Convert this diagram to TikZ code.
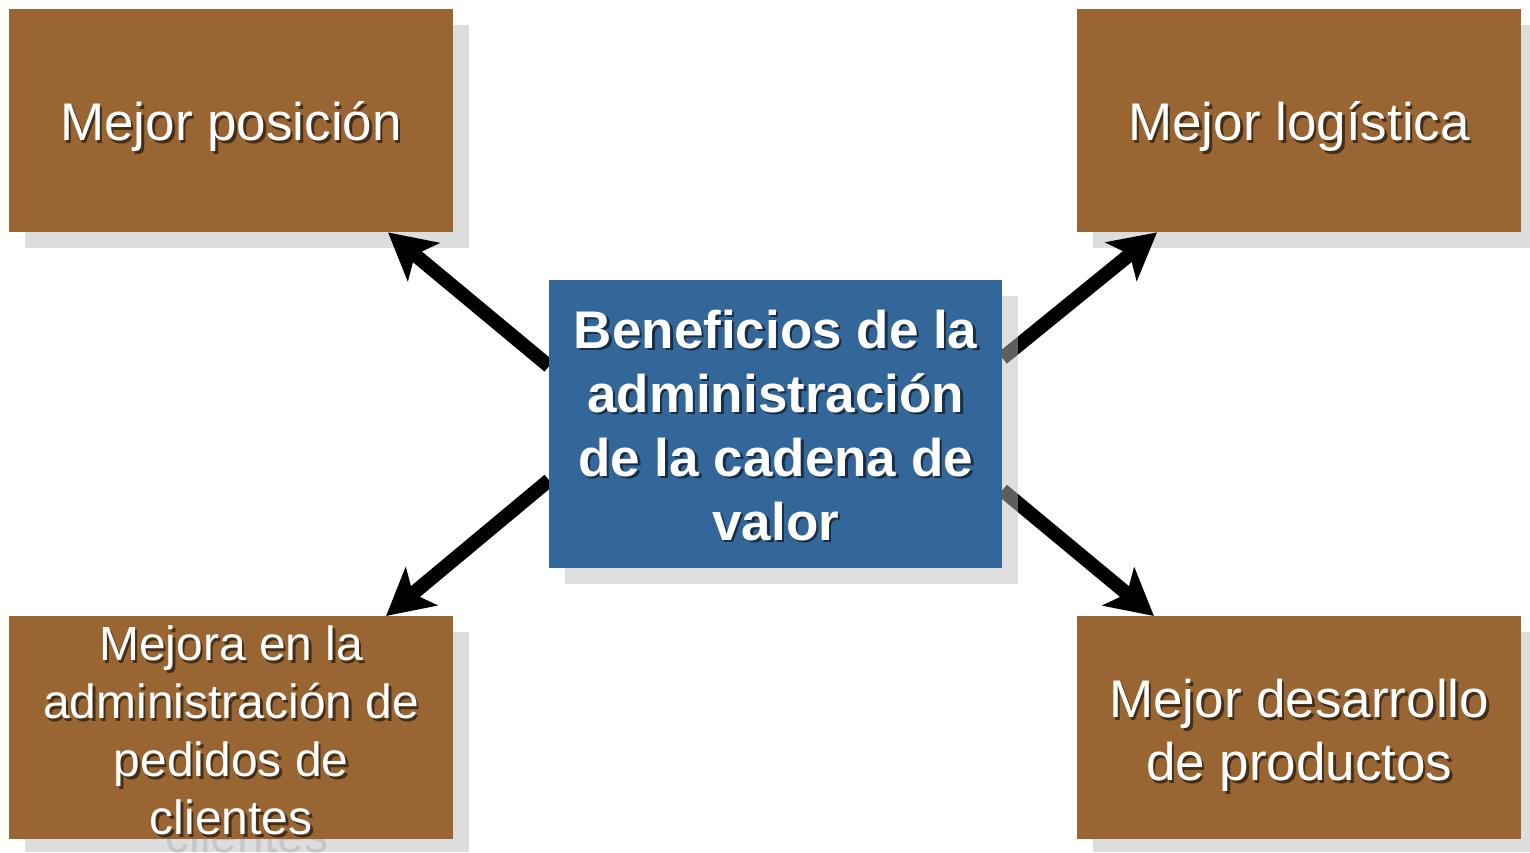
\documentclass[tikz,border=0pt]{standalone}
\usepackage{fontspec}
\setmainfont{Liberation Sans}
\usetikzlibrary{arrows.meta,calc}
\definecolor{brownbox}{HTML}{996633}
\definecolor{bluebox}{HTML}{336699}
\definecolor{shadowgray}{HTML}{DDDDDD}
\definecolor{ghost}{HTML}{C6C6C6}
\begin{document}
\begin{tikzpicture}[x=1pt,y=-1pt,
  box/.style={fill=brownbox, draw=none, minimum width=444pt, minimum height=223pt, anchor=north west, inner sep=0pt},
  cbox/.style={fill=bluebox, draw=none, minimum width=453pt, minimum height=288pt, anchor=north west, inner sep=0pt},
  txt/.style={text=white, align=center, font=\fontsize{53}{63}\selectfont},
  txtsh/.style={text=black, opacity=0.55, align=center, font=\fontsize{53}{63}\selectfont},
  arr/.style={line width=14pt, -{Stealth[length=46pt, width=49pt, inset=11pt]}}]
\useasboundingbox (0,0) rectangle (1530,852);
% corner shadows
\fill[shadowgray] (25,25) rectangle (469,248);
\fill[shadowgray] (1093,25) rectangle (1530,248);
\fill[shadowgray] (25,632) rectangle (469,852);
\fill[shadowgray] (1093,632) rectangle (1530,852);
% ghost text of bottom-left shadow
\node[text=ghost, align=center, font=\fontsize{48}{58}\selectfont] at (247,748)
  {Mejora en la\\administración de\\pedidos de\\clientes};
% corner boxes
\node[box] (tl) at (9,9) {};
\node[box] (tr) at (1077,9) {};
\node[box] (bl) at (9,616) {};
\node[box] (br) at (1077,616) {};
% corner texts
\node[txtsh] at ($(tl.center)+(2.5,8.5)$) {Mejor posición};
\node[txt] (tlt) at ($(tl.center)+(0,6)$) {Mejor posición};
\node[txtsh] at ($(tr.center)+(2.5,8.5)$) {Mejor logística};
\node[txt] (trt) at ($(tr.center)+(0,6)$) {Mejor logística};
\node[txtsh, font=\fontsize{48}{58}\selectfont] at ($(bl.center)+(2.5,5.5)$) {Mejora en la\\administración de\\pedidos de\\clientes};
\node[txt, font=\fontsize{48}{58}\selectfont] (blt) at ($(bl.center)+(0,3)$) {Mejora en la\\administración de\\pedidos de\\clientes};
\node[txtsh] at ($(br.center)+(2.5,10.5)$) {Mejor desarrollo\\de productos};
\node[txt] (brt) at ($(br.center)+(0,8)$) {Mejor desarrollo\\de productos};
% center node placeholder for anchors
\path (549,280) node[cbox, fill=none] (c) {};
% arrow ends
\coordinate (s1) at ($(c.west)+(0,-58)$);
\coordinate (s2) at ($(c.east)+(0,-66)$);
\coordinate (s3) at ($(c.west)+(0,56)$);
\coordinate (s4) at ($(c.east)+(0,66)$);
\coordinate (t1) at ($(tl.south west)+(379,0)$);
\coordinate (t2) at ($(tr.south west)+(80,0)$);
\coordinate (t3) at ($(bl.north west)+(377,0)$);
\coordinate (t4) at ($(br.north west)+(77,0)$);
\draw[arr] (s1) -- (t1);
\draw[arr] (s2) -- (t2);
\draw[arr] (s3) -- (t3);
\draw[arr] (s4) -- (t4);
% center shadow (semi-transparent over arrows)
\fill[black!26, opacity=0.5] (565,296) rectangle (1018,584);
\node[cbox] at (549,280) {};
\node[txtsh, font=\bfseries\fontsize{53}{64}\selectfont] at ($(c.center)+(2.5,3.5)$)
  {Beneficios de la\\administración\\de la cadena de\\valor};
\node[txt, font=\bfseries\fontsize{53}{64}\selectfont] (ct) at ($(c.center)+(0,1)$)
  {Beneficios de la\\administración\\de la cadena de\\valor};
\end{tikzpicture}
\end{document}
